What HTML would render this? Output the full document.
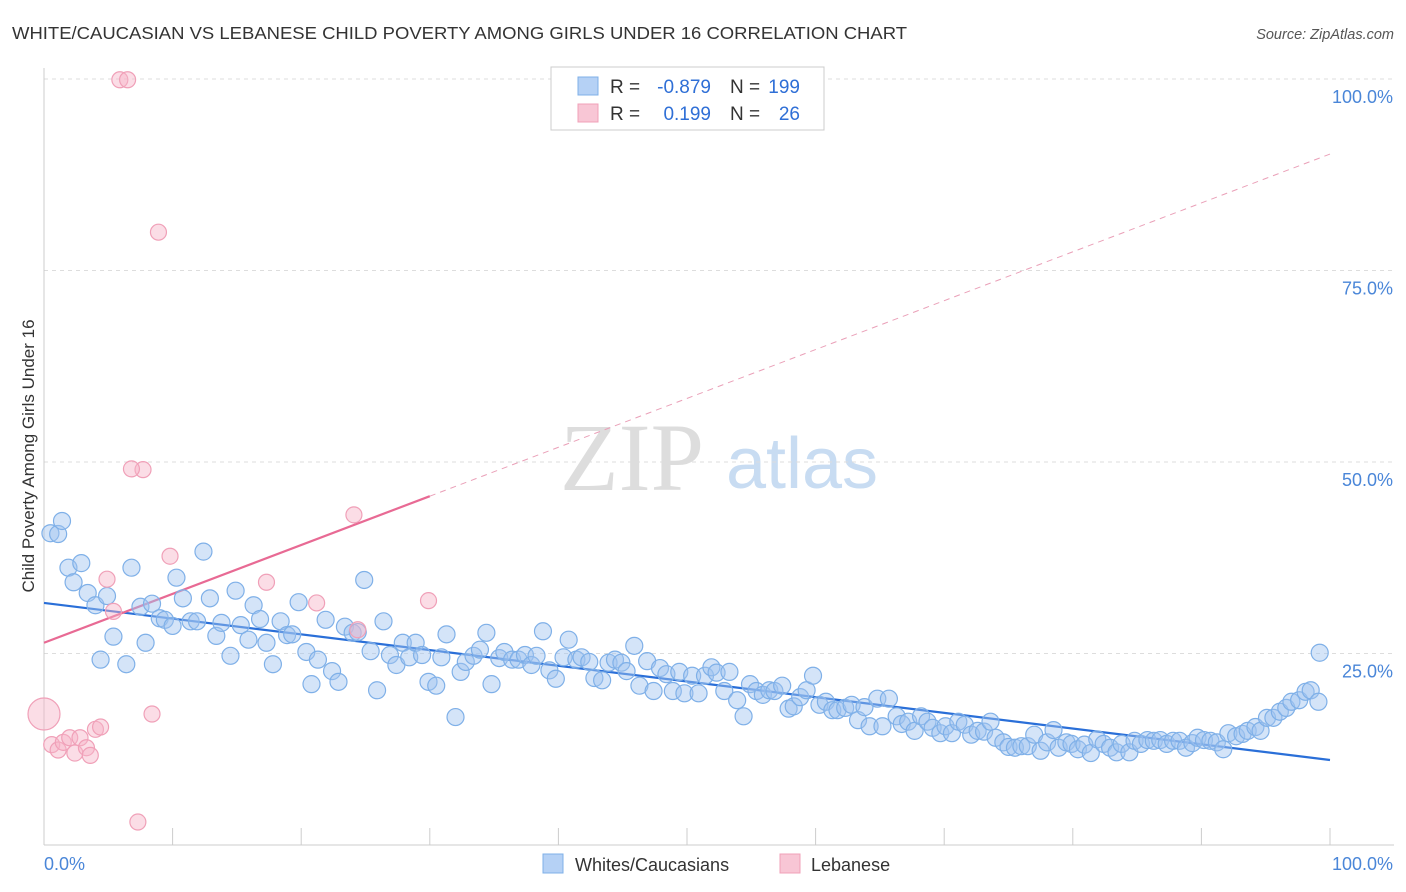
<!DOCTYPE html>
<html><head><meta charset="utf-8"><style>
body{margin:0;background:#fff;font-family:"Liberation Sans",sans-serif}
svg{display:block}
</style></head><body>
<svg id="c" width="1406" height="892">
<text x="12" y="39" font-size="17.5" fill="#333" textLength="895" lengthAdjust="spacingAndGlyphs">WHITE/CAUCASIAN VS LEBANESE CHILD POVERTY AMONG GIRLS UNDER 16 CORRELATION CHART</text>
<text x="1394" y="39" font-size="14.5" fill="#555" font-style="italic" text-anchor="end">Source: ZipAtlas.com</text>
<text x="34" y="456" font-size="17" fill="#333" text-anchor="middle" transform="rotate(-90 34 456)">Child Poverty Among Girls Under 16</text>
<g><text x="632" y="490" font-size="96" fill="#ddd" font-family="Liberation Serif,serif" text-anchor="middle">ZIP</text><text x="802" y="488" font-size="72" fill="#c8dcf2" text-anchor="middle">atlas</text></g>
<g id="grid"></g><g id="axes"></g><g id="lines"></g><g id="pts"></g>
<g>
<rect x="551" y="67" width="273" height="63" fill="#fff" stroke="#ccc"/>
<rect x="578" y="77" width="20" height="18" fill="#b5d1f5" stroke="#7fb0e8"/>
<rect x="578" y="104" width="20" height="18" fill="#f8c6d5" stroke="#f0a0b8"/>
<g font-size="19" fill="#333">
<text x="610" y="93">R =</text><text x="711" y="93" text-anchor="end" fill="#2f6fd6">-0.879</text>
<text x="730" y="93">N =</text><text x="800" y="93" text-anchor="end" fill="#2f6fd6">199</text>
<text x="610" y="120">R =</text><text x="711" y="120" text-anchor="end" fill="#2f6fd6">0.199</text>
<text x="730" y="120">N =</text><text x="800" y="120" text-anchor="end" fill="#2f6fd6">26</text>
</g>
</g>
<g>
<rect x="543" y="854" width="20" height="19" fill="#b5d1f5" stroke="#7fb0e8"/>
<text x="575" y="871" font-size="18" fill="#333">Whites/Caucasians</text>
<rect x="780" y="854" width="20" height="19" fill="#f8c6d5" stroke="#f0a0b8"/>
<text x="811" y="871" font-size="18" fill="#333">Lebanese</text>
</g>
</svg>
<script>
const blueX=[0.5,1.1,1.4,1.9,2.3,2.9,3.4,4.0,4.4,4.9,5.4,6.4,6.8,7.5,7.9,8.4,9.0,9.4,10.0,10.3,10.8,11.4,11.9,12.4,12.9,13.4,13.8,14.5,14.9,15.3,15.9,16.3,16.8,17.3,17.8,18.4,18.9,19.3,19.8,20.4,20.8,21.3,21.9,22.4,22.9,23.4,24.0,24.4,24.9,25.4,25.9,26.4,26.9,27.4,27.9,28.4,28.9,29.4,29.9,30.5,30.9,31.3,32.0,32.4,32.8,33.4,33.9,34.4,34.8,35.4,35.8,36.4,36.9,37.4,37.9,38.3,38.8,39.3,39.8,40.4,40.8,41.4,41.8,42.4,42.8,43.4,43.9,44.4,44.9,45.3,45.9,46.3,46.9,47.4,47.9,48.4,48.9,49.4,49.8,50.4,50.9,51.4,51.9,52.3,52.9,53.3,53.9,54.4,54.9,55.4,55.9,56.4,56.8,57.4,57.9,58.3,58.8,59.3,59.8,60.3,60.8,61.3,61.7,62.3,62.8,63.3,63.8,64.2,64.8,65.2,65.7,66.3,66.7,67.2,67.7,68.2,68.7,69.1,69.7,70.1,70.6,71.1,71.6,72.1,72.6,73.1,73.6,74.0,74.6,75.0,75.5,76.0,76.5,77.0,77.5,78.0,78.5,78.9,79.5,79.9,80.4,80.9,81.4,81.9,82.4,82.9,83.4,83.8,84.4,84.8,85.3,85.8,86.3,86.8,87.3,87.8,88.3,88.8,89.3,89.7,90.2,90.7,91.2,91.7,92.1,92.7,93.2,93.6,94.2,94.6,95.1,95.6,96.1,96.6,97.0,97.6,98.1,98.5,99.1,99.2];
const blueY=[40.7,40.6,42.3,36.2,34.3,36.8,32.9,31.3,24.2,32.5,27.2,23.6,36.2,31.1,26.4,31.5,29.6,29.4,28.6,34.9,32.2,29.2,29.2,38.3,32.2,27.3,29.0,24.7,33.2,28.7,26.8,31.3,29.5,26.4,23.6,29.2,27.4,27.5,31.7,25.2,21.0,24.2,29.4,22.7,21.3,28.5,27.7,27.8,34.6,25.3,20.2,29.2,24.8,23.5,26.4,24.5,26.4,24.8,21.3,20.8,24.5,27.5,16.7,22.6,23.9,24.7,25.5,27.7,21.0,24.4,25.2,24.2,24.2,24.8,23.5,24.7,27.9,22.8,21.7,24.5,26.8,24.2,24.5,23.9,21.8,21.5,23.8,24.2,23.8,22.7,26.0,20.8,24.0,20.1,23.1,22.3,20.1,22.6,19.8,22.1,19.8,22.1,23.2,22.5,20.1,22.6,18.9,16.8,21.0,20.1,19.6,20.2,20.1,20.8,17.8,18.1,19.3,20.2,22.1,18.3,18.7,17.6,17.6,17.9,18.3,16.3,18.0,15.5,19.1,15.5,19.1,16.8,15.8,16.1,14.9,16.8,16.1,15.3,14.6,15.5,14.6,16.1,15.7,14.4,14.9,14.8,16.1,14.0,13.4,12.8,12.7,12.9,12.9,14.4,12.3,13.4,15.0,12.7,13.4,13.2,12.5,13.1,12.0,13.8,13.2,12.7,12.1,13.2,12.1,13.6,13.2,13.7,13.6,13.7,13.2,13.6,13.6,12.7,13.3,14.0,13.7,13.6,13.4,12.5,14.6,14.2,14.5,14.9,15.4,14.9,16.6,16.6,17.4,17.9,18.7,18.9,20.0,20.2,18.7,25.1];
const pinkX=[0.6,1.1,1.5,2.0,2.4,2.8,3.3,3.6,4.0,4.4,4.9,5.4,5.9,6.5,7.3,7.7,6.8,8.4,8.9,9.8,17.3,21.2,24.1,24.4,29.9,0];
const pinkY=[13.1,12.4,13.4,14.0,12.0,14.0,12.7,11.7,15.1,15.4,34.7,30.5,99.9,99.9,3.0,49.0,49.1,17.1,80.0,37.7,34.3,31.6,43.1,28.1,31.9,17.1];
const pinkR=[8,8,8,8,8,8,8,8,8,8,8,8,8,8,8,8,8,8,8,8,8,8,8,8,8,16];
const blueFit=[31.6,11.1];
const pinkFit=[26.4,90.2];
const yTicks=[25,50,75,100];
const xTickVals=[0,10,20,30,40,50,60,70,80,90,100];
const NS="http://www.w3.org/2000/svg";
const X=v=>44+v*12.86, Y=v=>845-v*7.66;
function mk(t,a,p){const e=document.createElementNS(NS,t);for(const k in a)e.setAttribute(k,a[k]);document.getElementById(p).appendChild(e);return e;}
yTicks.forEach(t=>{
 const g=mk('line',{x1:44,x2:1394,y1:Y(t),y2:Y(t),stroke:'#ddd','stroke-dasharray':'4,4'},'grid');
 
 
 const l=mk('text',{x:1393,y:Y(t)+24,'font-size':18,fill:'#4a86d8','text-anchor':'end'},'axes');
 l.textContent=t.toFixed(1)+'%';
 
 
});
mk('line',{x1:44,x2:44,y1:68,y2:845,stroke:'#ccc'},'axes');
mk('line',{x1:44,x2:1394,y1:845,y2:845,stroke:'#ccc'},'axes');
xTickVals.forEach(t=>{const e=mk('line',{x1:X(t),x2:X(t),y1:828,y2:845,stroke:'#ccc'},'axes');
 
 });
const xl=mk('text',{x:44,y:870,'font-size':18,fill:'#4a86d8'},'axes');xl.textContent='0.0%';


const xr=mk('text',{x:1393,y:870,'font-size':18,fill:'#4a86d8','text-anchor':'end'},'axes');xr.textContent='100.0%';


blueX.forEach((x,i)=>{const c=mk('circle',{cx:X(x),cy:Y(blueY[i]),r:8.5,fill:'rgba(160,196,240,0.45)',stroke:'#7fb0e8','stroke-width':1.2},'pts');
 
 });
pinkX.forEach((x,i)=>{const c=mk('circle',{cx:X(x),cy:Y(pinkY[i]),r:pinkR[i],fill:'rgba(246,180,200,0.45)',stroke:'#f0a0b8','stroke-width':1.2},'pts');
 
 });
const bl=mk('line',{x1:X(0),y1:Y(blueFit[0]),x2:X(100),y2:Y(blueFit[1]),stroke:'#2a6fd8','stroke-width':2.2},'lines');


const pAt=x=>pinkFit[0]+(pinkFit[1]-pinkFit[0])*x/100;
const pl=mk('line',{x1:X(0),y1:Y(pAt(0)),x2:X(30),y2:Y(pAt(30)),stroke:'#e86a94','stroke-width':2.2},'lines');


const pd=mk('line',{x1:X(30),y1:Y(pAt(30)),x2:X(100),y2:Y(pAt(100)),stroke:'#eaa0b8','stroke-width':1,'stroke-dasharray':'6,5'},'lines');


</script>
</body></html>
